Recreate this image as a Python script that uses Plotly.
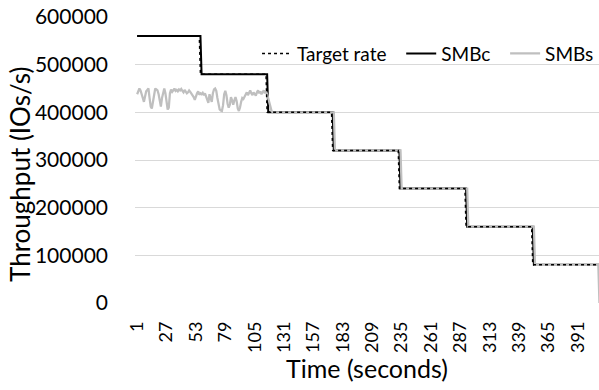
import plotly.graph_objects as go

# ---- data ----
n_points = 410
tick_labels = [1, 27, 53, 79, 105, 131, 157, 183, 209, 235, 261, 287, 313, 339, 365, 391]

target_levels = [560000, 480000, 400000, 320000, 240000, 160000, 80000]
target_lengths = [56, 59, 58, 59, 59, 59, 60]

smbc_levels = [560000, 480000, 400000, 320000, 240000, 160000, 80000]
smbc_lengths = [57, 59, 58, 59, 59, 59, 59]

# SMBs: noisy first part (seconds 1..121), in IOs/s
smbs_head = [
    438000, 445000, 450000, 446000, 440000, 430000, 422000, 436000, 444000, 447000,
    450000, 430000, 412000, 408000, 425000, 440000, 450000, 448000, 446000, 438000,
    422000, 412000, 430000, 445000, 450000, 440000, 418000, 406000, 410000, 440000,
    448000, 443000, 446000, 450000, 445000, 447000, 444000, 448000, 446000, 449000,
    445000, 442000, 447000, 444000, 440000, 442000, 446000, 443000, 440000, 437000,
    432000, 426000, 436000, 440000, 444000, 437000, 440000, 438000, 441000, 436000,
    440000, 434000, 428000, 420000, 438000, 432000, 422000, 440000, 448000, 450000,
    445000, 430000, 414000, 406000, 404000, 403000, 415000, 438000, 445000, 436000,
    418000, 410000, 416000, 432000, 425000, 416000, 425000, 432000, 424000, 408000,
    403000, 410000, 422000, 430000, 428000, 432000, 438000, 442000, 436000, 440000,
    446000, 440000, 436000, 442000, 438000, 435000, 442000, 446000, 440000, 444000,
    438000, 442000, 446000, 440000, 444000, 438000, 428000, 418000, 408000, 402000,
    400000,
]
# SMBs: stepped remainder (run-length levels)
smbs_tail_levels = [400000, 320000, 240000, 160000, 80000, 0]
smbs_tail_lengths = [54, 59, 59, 59, 57, 1]


def expand(levels, lengths):
    out = []
    for v, k in zip(levels, lengths):
        out.extend([v] * k)
    return out


x = list(range(1, n_points + 1))
target = expand(target_levels, target_lengths)
smbc = expand(smbc_levels, smbc_lengths)
smbs = smbs_head + expand(smbs_tail_levels, smbs_tail_lengths)

FONT = "Lato"
NB = "\u00a0"

fig = go.Figure()
fig.add_trace(go.Scatter(x=x, y=smbc, mode="lines", name="SMBc" + NB * 2,
                         line=dict(color="#000000", width=2), legendrank=2))
fig.add_trace(go.Scatter(x=x, y=smbs, mode="lines", name="SMBs",
                         line=dict(color="#bfbfbf", width=2.25), legendrank=3))
fig.add_trace(go.Scatter(x=x, y=target, mode="lines", name="Target rate" + NB * 2,
                         line=dict(color="#000000", width=1.5, dash="dot"), legendrank=1))

fig.update_layout(
    width=599, height=390,
    margin=dict(l=135, r=0, t=17, b=87, autoexpand=False),
    paper_bgcolor="white", plot_bgcolor="white",
    font=dict(family=FONT, color="#000000"),
    showlegend=True,
    legend=dict(orientation="h", x=0.263, y=0.872, xanchor="left", yanchor="middle",
                bgcolor="rgba(0,0,0,0)", font=dict(size=19, family=FONT),
                traceorder="normal"),
    xaxis=dict(
        range=[-0.9, 409.6], automargin=False,
        tickmode="array", tickvals=tick_labels,
        ticktext=[str(t) for t in tick_labels],
        tickangle=-90, tickfont=dict(size=18, family=FONT),
        showgrid=False, zeroline=False, showline=False, ticks="",
        ticklabelstandoff=14,
        title=dict(text="Time (seconds)", font=dict(size=25, family=FONT), standoff=8),
    ),
    yaxis=dict(
        range=[0, 600000], dtick=100000, tickformat="d", automargin=False,
        tickfont=dict(size=21, family=FONT),
        showgrid=True, gridcolor="#d9d9d9", gridwidth=1,
        zeroline=False, showline=False, ticks="",
        ticklabelstandoff=26,
    ),
    annotations=[dict(
        text="Throughput (IOs/s)", xref="paper", yref="paper",
        x=-135 / 464 + 20 / 464, y=0.4476, xanchor="center", yanchor="middle",
        textangle=-90, showarrow=False, font=dict(size=26, family=FONT),
    )],
)

fig.write_html("out.html", config={"displayModeBar": False},
               post_script="document.body.style.margin='0';")
